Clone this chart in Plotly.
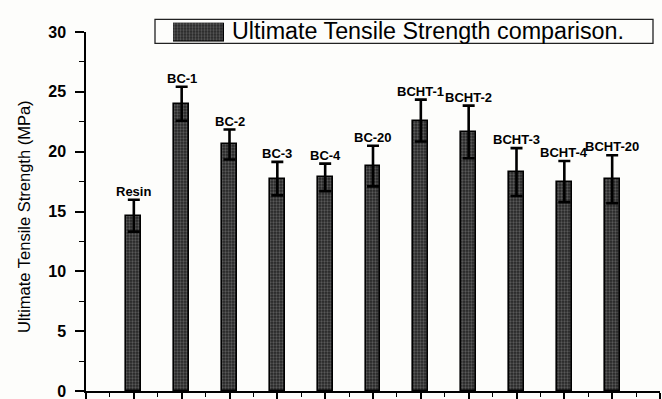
import plotly.graph_objects as go

# Sample groups and measured ultimate tensile strength (MPa) with standard deviation
samples = ["Resin", "BC-1", "BC-2", "BC-3", "BC-4", "BC-20",
           "BCHT-1", "BCHT-2", "BCHT-3", "BCHT-4", "BCHT-20"]
uts = [14.65, 24.0, 20.6, 17.75, 17.85, 18.8, 22.6, 21.65, 18.3, 17.5, 17.7]
uts_err = [1.33, 1.42, 1.25, 1.4, 1.15, 1.7, 1.75, 2.2, 2.0, 1.72, 2.0]

y_ticks = [0, 5, 10, 15, 20, 25, 30]
legend_text = "Ultimate Tensile Strength comparison."

FONT = "Liberation Sans, Arial, sans-serif"
BG = "#fdfdfb"
hatch = dict(shape=".", bgcolor="#262626", fgcolor="#8c8c8c", size=3, solidity=0.45)

positions = list(range(len(samples)))

fig = go.Figure()
fig.add_trace(go.Bar(
    x=positions, y=uts, width=0.31,
    marker=dict(color="#262626", pattern=hatch, line=dict(color="#000000", width=1.6)),
    error_y=dict(type="data", array=uts_err, visible=True,
                 color="#000000", thickness=2.6, width=6),
    showlegend=False,
))

# Legend key: a small hatched block on its own hidden axes
fig.add_trace(go.Bar(
    x=[0.5], y=[1], width=1, xaxis="x2", yaxis="y2",
    marker=dict(color="#262626", pattern=hatch, line=dict(color="#000000", width=1.2)),
    showlegend=False, hoverinfo="skip",
))

# Sample names above each error bar
for xi, name, v, e in zip(positions, samples, uts, uts_err):
    fig.add_annotation(x=xi, y=v + e, xref="x", yref="y", text=name,
                       showarrow=False, yanchor="bottom", yshift=-1,
                       font=dict(family=FONT, size=13, color="#000000", weight="bold"))

# Legend frame and caption
fig.add_shape(type="rect", xref="paper", yref="paper",
              x0=(155 - 86) / 574, x1=(653 - 86) / 574,
              y0=(391 - 43.3) / 372, y1=(391 - 19.3) / 372,
              line=dict(color="#222222", width=1.3), fillcolor="rgba(0,0,0,0)")
fig.add_annotation(xref="paper", yref="paper", x=(230 - 86) / 574, y=(391 - 31.5) / 372,
                   text=legend_text, showarrow=False, xanchor="left", yanchor="middle",
                   font=dict(family=FONT, size=23.3, color="#000000"))

# Y axis title
fig.add_annotation(xref="paper", yref="paper", x=(24 - 86) / 574, y=(391 - 217) / 372,
                   text="Ultimate Tensile Strength (MPa)", showarrow=False, textangle=-90,
                   xanchor="center", yanchor="middle",
                   font=dict(family=FONT, size=16.5, color="#000000"))

fig.update_layout(
    width=662, height=399,
    margin=dict(l=86, r=2, t=19, b=8, autoexpand=False),
    paper_bgcolor=BG, plot_bgcolor=BG,
    bargap=0,
    xaxis=dict(range=[-1, 11], tickmode="linear", tick0=-1, dtick=1,
               showticklabels=False, showgrid=False, zeroline=False,
               showline=True, linecolor="#000000", linewidth=1.5,
               ticks="outside", ticklen=8, tickwidth=1.5, tickcolor="#000000",
               minor=dict(dtick=0.5, ticks="outside", ticklen=4, tickwidth=1.2,
                          tickcolor="#000000", showgrid=False)),
    yaxis=dict(range=[0, 30], domain=[0, 359 / 372], tickvals=y_ticks,
               showgrid=False, zeroline=False,
               showline=True, linecolor="#000000", linewidth=1.5,
               ticks="outside", ticklen=9, tickwidth=1.5, tickcolor="#000000",
               ticklabelstandoff=6, ticklabeloverflow="allow",
               tickfont=dict(family=FONT, size=16, color="#000000", weight="bold"),
               minor=dict(tickvals=[2.5, 7.5, 12.5, 17.5, 22.5, 27.5], ticks="outside",
                          ticklen=5, tickwidth=1.2, tickcolor="#000000", showgrid=False)),
    xaxis2=dict(domain=[(173 - 86) / 574, (224 - 86) / 574], range=[0, 1],
                anchor="y2", visible=False, fixedrange=True),
    yaxis2=dict(domain=[(391 - 41.7) / 372, (391 - 22.7) / 372], range=[0, 1],
                anchor="x2", visible=False, fixedrange=True),
)

fig.write_html("out.html")
